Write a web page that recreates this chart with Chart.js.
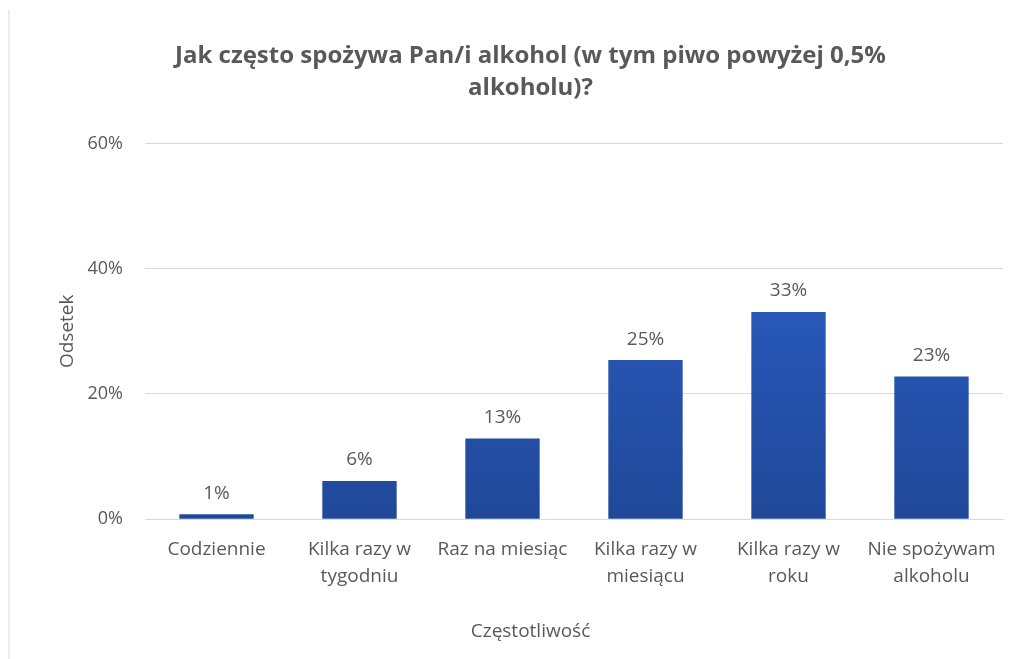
<!DOCTYPE html>
<html>
<head>
<meta charset="utf-8">
<script src="https://cdn.jsdelivr.net/npm/chart.js@4.4.1/dist/chart.umd.min.js"></script>
<style>
  body { margin: 0; background: #fff; }
  #frame {
    position: absolute; left: 8px; top: 10px;
    width: 1026px; height: 649px;
    border-left: 2px solid #ececec;
  }
</style>
</head>
<body>
<div id="frame"><canvas id="chart" width="1026" height="649"></canvas></div>
<script>
// categories (multi-line labels as Excel wrapped them)
const categories = [
  "Codziennie",
  ["Kilka razy w", "tygodniu"],
  "Raz na miesiąc",
  ["Kilka razy w", "miesiącu"],
  ["Kilka razy w", "roku"],
  ["Nie spożywam", "alkoholu"]
]
// percent of respondents
const shares = [0.8, 6.1, 12.9, 25.4, 33.1, 22.8]
const yTicks = [0, 20, 40, 60]

const grey = '#595959'
const fontFam = "'Open Sans', sans-serif"

// value labels above each bar
const barLabels = {
  id: 'barLabels',
  afterDatasetsDraw(chart) {
    const ctx = chart.ctx
    const meta = chart.getDatasetMeta(0)
    ctx.save()
    ctx.font = "19px " + fontFam
    ctx.fillStyle = grey
    ctx.textAlign = 'center'
    ctx.textBaseline = 'middle'
    meta.data.forEach((bar, i) => {
      ctx.fillText(Math.round(shares[i]) + '%', bar.x, bar.y - 21)
    })
    ctx.restore()
  }
}

const ctx = document.getElementById('chart').getContext('2d')

new Chart(ctx, {
  type: 'bar',
  data: {
    labels: categories,
    datasets: [{
      label: 'Odsetek',
      data: shares,
      backgroundColor: function (c) {
        const area = c.chart.chartArea
        if (!area) return '#2756b8'
        const g = c.chart.ctx.createLinearGradient(0, area.top, 0, area.bottom)
        g.addColorStop(0, '#3064d2')
        g.addColorStop(1, '#1f4898')
        return g
      },
      borderWidth: 0,
      categoryPercentage: 1,
      barPercentage: 0.52
    }]
  },
  options: {
    responsive: false,
    animation: false,
    layout: { padding: { left: 48, right: 33, top: 0, bottom: 0 } },
    plugins: {
      legend: { display: false },
      tooltip: { enabled: false },
      title: {
        display: true,
        text: ["Jak często spożywa Pan/i alkohol (w tym piwo powyżej 0,5%", "alkoholu)?"],
        color: grey,
        font: { family: fontFam, size: 24, weight: 'bold', lineHeight: 1.3 },
        padding: { top: 31, bottom: 40 }
      },
      subtitle: {
        display: true,
        position: 'bottom',
        text: 'Częstotliwość',
        color: grey,
        font: { family: fontFam, size: 19, lineHeight: 1.2 },
        padding: { top: 0, bottom: 16 }
      }
    },
    scales: {
      x: {
        grid: { display: false, drawTicks: false },
        border: { display: true, color: '#d9d9d9', width: 1 },
        ticks: {
          color: grey,
          font: { family: fontFam, size: 19, lineHeight: 1.42 },
          padding: 17,
          maxRotation: 0,
          autoSkip: false
        },
        afterFit: s => { s.height = 101 }
      },
      y: {
        min: 0,
        max: 60,
        afterBuildTicks: s => { s.ticks = yTicks.map(v => ({ value: v })) },
        grid: { color: '#d9d9d9', drawTicks: false },
        border: { display: false },
        ticks: {
          color: grey,
          font: { family: fontFam, size: 18 },
          padding: 22,
          callback: v => v + '%'
        },
        title: {
          display: true,
          text: 'Odsetek',
          color: grey,
          font: { family: fontFam, size: 19, lineHeight: 1 },
          padding: 0
        },
        afterFit: s => { s.width = 87 }
      }
    }
  },
  plugins: [barLabels]
})
</script>
</body>
</html>
